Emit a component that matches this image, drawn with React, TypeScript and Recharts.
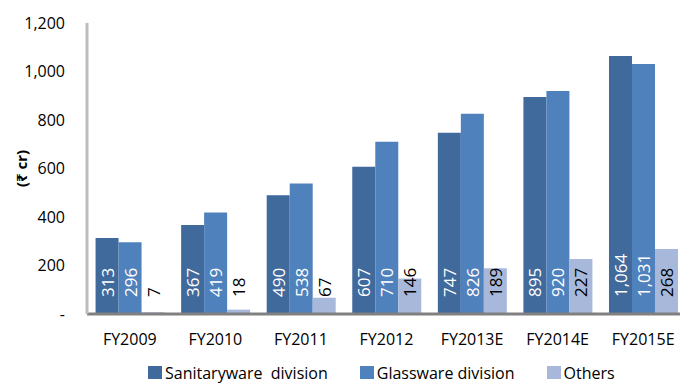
import { Bar, BarChart, LabelList, Legend, XAxis, YAxis } from 'recharts'

const years = ['FY2009', 'FY2010', 'FY2011', 'FY2012', 'FY2013E', 'FY2014E', 'FY2015E']
const sanitaryware = [313, 367, 490, 607, 747, 895, 1064]
const glassware = [296, 419, 538, 710, 826, 920, 1031]
const others = [7, 18, 67, 146, 189, 227, 268]
const yTicks = [0, 200, 400, 600, 800, 1000, 1200]

const series = [
  { key: 'sanitary', name: 'Sanitaryware  division', color: '#40699c', labelColor: '#ffffff' },
  { key: 'glass', name: 'Glassware division', color: '#4f81bd', labelColor: '#ffffff' },
  { key: 'others', name: 'Others', color: '#a7b8da', labelColor: '#000000' },
]

const data = years.map((year, i) => ({
  year,
  sanitary: sanitaryware[i],
  glass: glassware[i],
  others: others[i],
}))

const FONT = "'Open Sans', sans-serif"

const fmt = (v: number) => (v === 0 ? '-' : v.toLocaleString('en-US'))

// vertical value label sitting near the foot of each bar
function makeBarLabel(fill: string) {
  return (props: any) => {
    const box = props.viewBox ?? props
    const { x, y, width, height } = box
    const cx = x + width / 2
    const sy = y + height - 17
    return (
      <text
        x={cx}
        y={sy}
        transform={`rotate(-90 ${cx} ${sy})`}
        textAnchor="start"
        dominantBaseline="central"
        fill={fill}
        fontSize={17}
        fontFamily={FONT}
      >
        {fmt(props.value)}
      </text>
    )
  }
}

function UnitLabel(props: any) {
  const vb = props.viewBox
  const cx = vb.x + 21
  const cy = vb.y + vb.height / 2
  return (
    <text
      x={cx}
      y={cy}
      transform={`rotate(-90 ${cx} ${cy})`}
      textAnchor="middle"
      dominantBaseline="central"
      fontSize={15}
      fontWeight="bold"
      fontFamily="'Noto Sans', 'DejaVu Sans', sans-serif"
      fill="#000"
    >
      (₹ cr)
    </text>
  )
}

function LegendRow() {
  return (
    <div
      style={{
        display: 'flex',
        alignItems: 'center',
        gap: 32,
        paddingLeft: 148,
        paddingTop: 21,
        height: 38,
        boxSizing: 'border-box',
        fontFamily: FONT,
        fontSize: 16,
        lineHeight: '16px',
        color: '#000',
      }}
    >
      {series.map((s) => (
        <div key={s.key} style={{ display: 'flex', alignItems: 'center' }}>
          <span style={{ display: 'inline-block', width: 14, height: 13, background: s.color, marginRight: 3 }} />
          <span style={{ whiteSpace: 'pre' }}>{s.name}</span>
        </div>
      ))}
    </div>
  )
}

export default function App() {
  return (
    <div style={{ position: 'absolute', left: 0, top: 0, width: 680, height: 383, overflow: 'hidden', background: '#fff' }}>
      <BarChart
        width={690}
        height={383}
        data={data}
        margin={{ top: 23, right: 4, left: 0, bottom: 0 }}
        barCategoryGap="10%"
        barGap={0}
      >
        <XAxis
          dataKey="year"
          height={29}
          tickSize={0}
          tickMargin={20}
          axisLine={{ stroke: '#808080', strokeWidth: 3 }}
          tick={{ fill: '#000', fontSize: 16, fontFamily: FONT }}
        />
        <YAxis
          width={87}
          domain={[0, 1200]}
          ticks={yTicks}
          tickFormatter={fmt}
          tickSize={0}
          tickMargin={22}
          axisLine={{ stroke: '#bdbdbd', strokeWidth: 3 }}
          tick={{ fill: '#000', fontSize: 16, fontFamily: FONT }}
          label={<UnitLabel />}
        />
        <Legend verticalAlign="bottom" height={40} content={<LegendRow />} />
        {series.map((s) => (
          <Bar key={s.key} dataKey={s.key} name={s.name} fill={s.color} isAnimationActive={false}>
            <LabelList dataKey={s.key} content={makeBarLabel(s.labelColor)} />
          </Bar>
        ))}
      </BarChart>
    </div>
  )
}
